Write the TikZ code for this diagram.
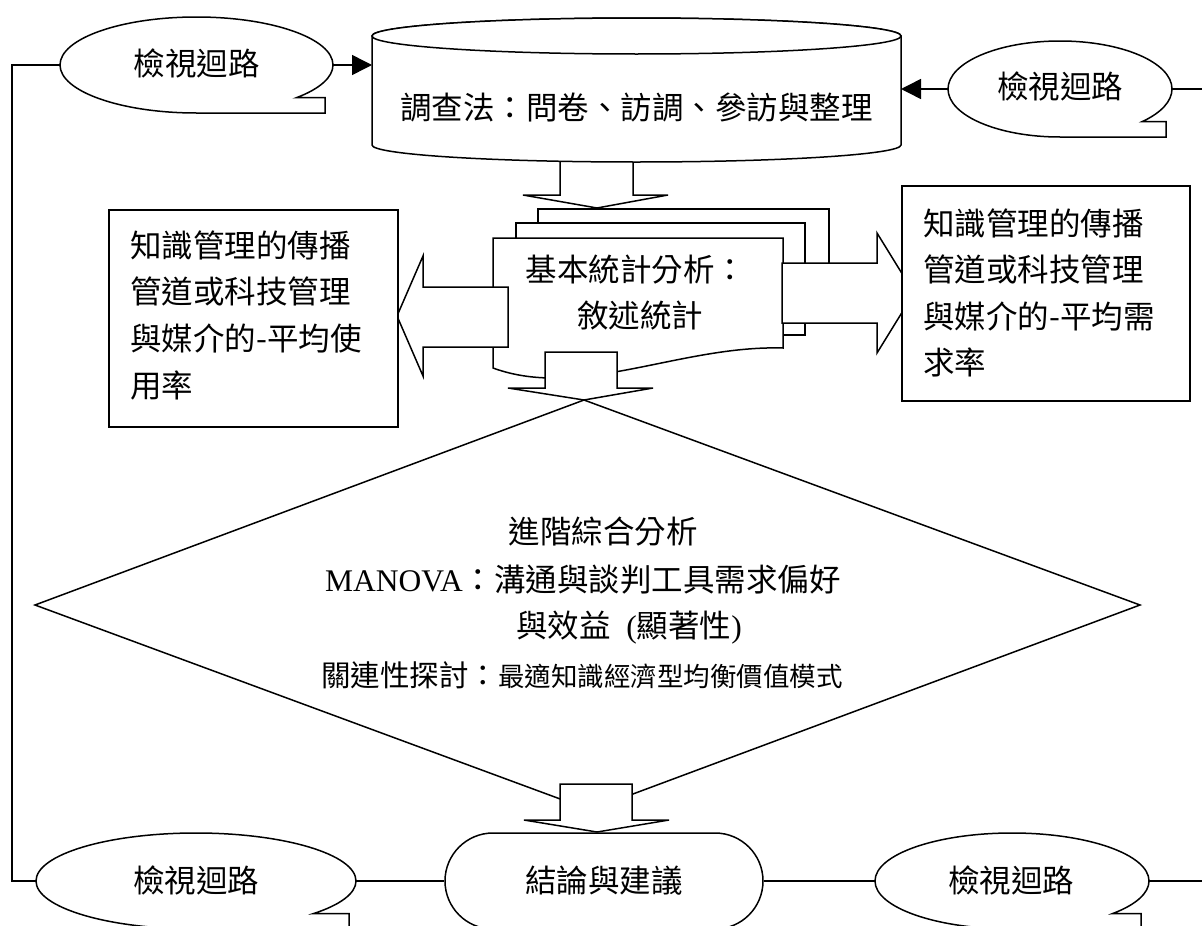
\documentclass[tikz,border=0pt]{standalone}
\usepackage{fontspec}
\setmainfont{Liberation Serif}
\newfontfamily\cjk{Noto Sans CJK TC}
\usetikzlibrary{arrows.meta}
\begin{document}
\begin{tikzpicture}[x=1pt,y=-1pt,
  shp/.style={draw=black, fill=white, line width=1.5pt, line join=miter},
  conn/.style={draw=black, line width=1.5pt},
  arr/.style={conn, -{Triangle[length=20pt,width=20pt]}},
  txt/.style={inner sep=0pt, font=\cjk\fontsize{31.5}{38}\selectfont},
  lft/.style={txt, anchor=west},
  boxnode/.style={shp, inner sep=0pt, anchor=north west},
  term/.style={shp, rounded corners=48pt, minimum width=318pt, minimum height=96pt, inner sep=0pt, font=\cjk\fontsize{31.5}{38}\selectfont}
]
\fill[white] (0,0) rectangle (1202,926);
\useasboundingbox (0,0) rectangle (1202,926);

% coordinates for connectors
\coordinate (tlW) at (60,65);
\coordinate (tlE) at (333,65);
\coordinate (cylL) at (372,65);
\coordinate (cylR) at (901,89);
\coordinate (trW) at (948,89);
\coordinate (trE) at (1172,89);
\coordinate (rOut1) at (1202,89);
\coordinate (rail) at (12,500);
\coordinate (blW) at (36,881);
\coordinate (blE) at (356,881);
\coordinate (brW) at (875,881);
\coordinate (brE) at (1149,881);
\coordinate (rOut2) at (1202,881);

% diamond
\draw[shp] (584,400) -- (1140,605) -- (590,810) -- (35,605) -- cycle;
\node[txt] (d1) at (603,532) {進階綜合分析};
\node[txt] (d2) at (583,580) {\rmfamily MANOVA\cjk ：溝通與談判工具需求偏好};
\node[txt] (d3) at (629,628) {與效益\rmfamily{}\ \ (\cjk 顯著性\rmfamily )};
\node[txt] (d4) at (582,675) {\fontsize{29.5}{36}\selectfont 關連性探討：\fontsize{26.5}{32}\selectfont 最適知識經濟型均衡價值模式};

% arrow cylinder -> documents
\draw[shp] (560,150) -- (560,195) -- (523,195) -- (597,208) -- (668,195) -- (633,195) -- (633,150) -- cycle;

% cylinder
\draw[shp] (372,36) -- (372,145) arc[start angle=180,end angle=0,x radius=264.5,y radius=17] -- (901,36) arc[start angle=0,end angle=-180,x radius=264.5,y radius=18] -- cycle;
\draw[shp] (636.5,36) ellipse[x radius=264.5,y radius=18];
\node[txt] (cylt) at (636.5,107) {調查法：問卷、訪調、參訪與整理};

% multi-document
\draw[shp] (538,209) rectangle (829,300);
\draw[shp] (516,223) rectangle (805,335);
\draw[shp] (493,238) -- (783,238) -- (783,348) .. controls (680,345) and (580,400) .. (493,368) -- cycle;
\node[txt] (doc1) at (636,270) {基本統計分析：};
\node[txt] (doc2) at (640,315) {敘述統計};

% left and right block arrows
\draw[shp] (508,287) -- (423,287) -- (423,256) -- (397,316) -- (423,376) -- (423,347) -- (508,347) -- cycle;
\draw[shp] (782,263) -- (877,263) -- (877,233) -- (914,293) -- (877,353) -- (877,323) -- (782,323) -- cycle;

% side boxes
\node[boxnode, minimum width=289pt, minimum height=217pt] (lbox) at (108,209) {};
\node[lft] (l1) at (130,245) {知識管理的傳播};
\node[lft] (l2) at (130,291) {管道或科技管理};
\node[lft] (l3) at (130,338) {與媒介的-平均使};
\node[lft] (l4) at (130,385) {用率};
\node[boxnode, minimum width=288pt, minimum height=215pt] (rbox) at (901,185) {};
\node[lft] (r1) at (923,223) {知識管理的傳播};
\node[lft] (r2) at (923,269) {管道或科技管理};
\node[lft] (r3) at (923,316) {與媒介的-平均需};
\node[lft] (r4) at (923,362) {求率};

% arrow documents -> diamond
\draw[shp] (545,352) -- (617,352) -- (617,388) -- (653,388) -- (584,400) -- (508,388) -- (545,388) -- cycle;

% arrow diamond -> conclusion
\draw[shp] (560,784) -- (632,784) -- (632,820) -- (669,820) -- (597,832) -- (524,820) -- (560,820) -- cycle;

% callouts
\draw[shp] (196.5,113) arc[start angle=90,end angle=403,x radius=136.5,y radius=48] -- (325,97.7) -- (325,113) -- cycle;
\node[txt] (tlt) at (196.5,63) {檢視迴路};
\draw[shp] (1060,137) arc[start angle=90,end angle=403,x radius=112,y radius=48] -- (1166,121.7) -- (1166,137) -- cycle;
\node[txt] (trt) at (1060,86) {檢視迴路};
\draw[shp] (196,929) arc[start angle=90,end angle=403,x radius=160,y radius=48] -- (349,913.7) -- (349,929) -- cycle;
\node[txt] (blt) at (196,880) {檢視迴路};
\draw[shp] (1012,929) arc[start angle=90,end angle=403,x radius=137,y radius=48] -- (1141,913.7) -- (1141,929) -- cycle;
\node[txt] (brt) at (1011,880) {檢視迴路};

% conclusion terminator
\node[term] (concl) at (604,881) {結論與建議};

% connectors
\draw[arr] (tlE) -- (cylL);
\draw[arr] (trW) -- (cylR);
\draw[conn] (trE) -- (rOut1);
\draw[conn] (tlW) -| (rail) |- (blW);
\draw[conn] (blE) -- (concl.west);
\draw[conn] (concl.east) -- (brW);
\draw[conn] (brE) -- (rOut2);
\end{tikzpicture}
\end{document}
